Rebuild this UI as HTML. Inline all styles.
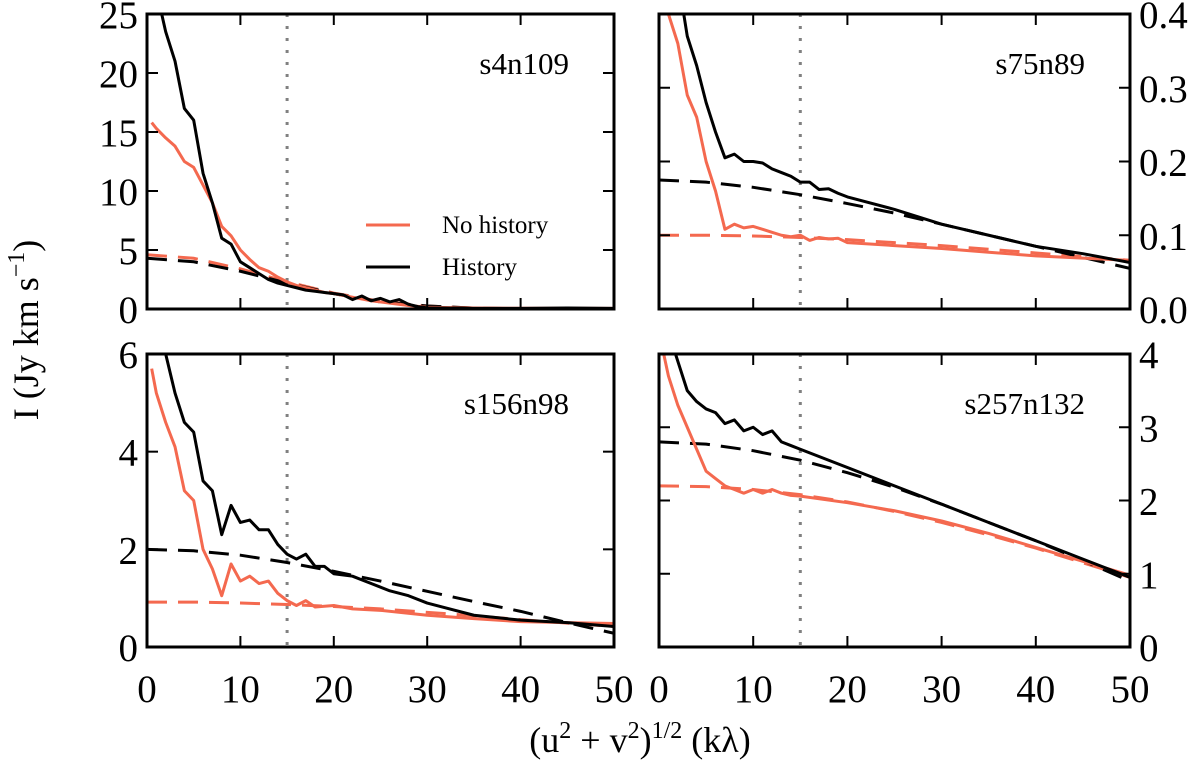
<!DOCTYPE html>
<html><head><meta charset="utf-8"><style>
body{margin:0;background:#fff;}
svg{display:block;font-family:"Liberation Serif",serif;}
</style></head><body>
<svg id="chart" width="1200" height="762" viewBox="0 0 1200 762" xmlns="http://www.w3.org/2000/svg">
<text x="38" y="330" font-size="36" text-anchor="middle" transform="rotate(-90 38 330)">I (Jy km s<tspan dy="-14" font-size="24">−1</tspan><tspan dy="14">)</tspan></text>
<text x="640" y="752" font-size="36" text-anchor="middle">(u<tspan dy="-14" font-size="24">2</tspan><tspan dy="14"> + v</tspan><tspan dy="-14" font-size="24">2</tspan><tspan dy="14">)</tspan><tspan dy="-14" font-size="24">1/2</tspan><tspan dy="14"> (kλ)</tspan></text>
</svg>
<script>
// ---- data ----
const panelNames = ["s4n109","s75n89","s156n98","s257n132"];
const yMaxes = [25, 0.4, 6, 4];
const yTicksTL = [0,5,10,15,20,25];
const yTicksTR = [0.0,0.1,0.2,0.3,0.4];
const yTicksBL = [0,2,4,6];
const yTicksBR = [0,1,2,3,4];
const xTicks = [0,10,20,30,40,50];

const xTL_hist = [1,2,3,4,5,6,7,8,9,10,11,12,13,14,15,16,17,18,19,20,21,22,23,24,25,26,27,28,29,30,35,40,45,50];
const yTL_hist = [27,23.5,21,17,16,11.5,9,6,5.5,4,3.5,3,2.5,2.2,2,1.8,1.6,1.5,1.4,1.3,1.2,0.8,1.1,0.7,0.9,0.6,0.8,0.4,0.2,0.1,0.05,0.05,0.08,0.05];
const xTL_nohist = [0.5,1,2,3,4,5,6,7,8,9,10,11,12,13,14,15,16,17,18,19,20,22,24,26,28,30,35,40,45,50];
const yTL_nohist = [15.8,15.3,14.5,13.8,12.5,12,10.5,9,7,6.2,5,4.2,3.5,3.2,2.7,2.3,2,1.8,1.6,1.4,1.3,1.0,0.7,0.5,0.3,0.15,0.08,0.06,0.05,0.05];
const yTL_fitHist = [4.3,4.0,3.2,2.2,1.3,0.6,0.25,0.08,0.02,0.0,0.0];
const yTL_fitNo = [4.6,4.3,3.4,2.3,1.35,0.65,0.25,0.08,0.02,0.0,0.0];

const xTR_hist = [2,3,4,5,6,7,8,9,10,11,12,13,14,15,16,17,18,19,20,25,30,35,40,45,50];
const yTR_hist = [0.45,0.37,0.33,0.28,0.24,0.205,0.21,0.2,0.2,0.198,0.19,0.185,0.18,0.172,0.172,0.162,0.163,0.157,0.152,0.135,0.115,0.1,0.085,0.075,0.063];
const xTR_nohist = [1,2,3,4,5,6,7,8,9,10,11,12,13,14,15,16,17,18,19,20,25,30,35,40,45,50];
const yTR_nohist = [0.4,0.36,0.29,0.26,0.2,0.16,0.108,0.115,0.11,0.112,0.108,0.104,0.1,0.098,0.1,0.093,0.097,0.095,0.096,0.09,0.086,0.082,0.077,0.072,0.069,0.066];
const yTR_fitHist = [0.175,0.172,0.165,0.155,0.143,0.13,0.115,0.1,0.085,0.07,0.055];
const yTR_fitNo = [0.1,0.1,0.099,0.097,0.094,0.09,0.086,0.081,0.076,0.071,0.066];

const xBL_hist = [1,2,3,4,5,6,7,8,9,10,11,12,13,14,15,16,17,18,19,20,22,24,26,28,30,32,35,40,45,50];
const yBL_hist = [6.5,6,5.2,4.6,4.4,3.4,3.2,2.3,2.9,2.55,2.6,2.4,2.4,2.1,1.9,1.8,1.9,1.65,1.65,1.5,1.45,1.3,1.15,1.05,0.9,0.8,0.65,0.55,0.5,0.42];
const xBL_nohist = [0.5,1,2,3,4,5,6,7,8,9,10,11,12,13,14,15,16,17,18,20,22,25,30,35,40,45,50];
const yBL_nohist = [5.7,5.2,4.6,4.1,3.2,3.0,2.0,1.6,1.05,1.7,1.35,1.45,1.3,1.35,1.1,0.95,0.85,0.95,0.82,0.85,0.78,0.75,0.65,0.58,0.52,0.5,0.48];
const yBL_fitHist = [2.0,1.97,1.88,1.73,1.55,1.35,1.14,0.93,0.73,0.5,0.28];
const yBL_fitNo = [0.92,0.92,0.9,0.87,0.83,0.78,0.71,0.64,0.56,0.49,0.42];

const xBR_hist = [1,2,3,4,5,6,7,8,9,10,11,12,13,14,15,20,25,30,35,40,45,50];
const yBR_hist = [4.3,3.9,3.5,3.35,3.25,3.2,3.05,3.1,2.95,3.0,2.9,2.95,2.8,2.75,2.7,2.45,2.2,1.95,1.7,1.45,1.2,0.95];
const xBR_nohist = [0.5,1,2,3,4,5,6,7,8,9,10,11,12,13,14,15,20,25,30,35,40,45,50];
const yBR_nohist = [4.0,3.7,3.3,3.0,2.7,2.4,2.3,2.2,2.15,2.1,2.15,2.1,2.15,2.1,2.07,2.06,1.97,1.86,1.72,1.55,1.36,1.17,0.98];
const yBR_fitHist = [2.8,2.77,2.68,2.55,2.38,2.18,1.95,1.7,1.45,1.18,0.9];
const yBR_fitNo = [2.2,2.19,2.15,2.08,1.98,1.85,1.7,1.53,1.35,1.15,0.95];
const xFit = [0,5,10,15,20,25,30,35,40,45,50];

const cutoff = 15;

// ---- drawing ----
const NS="http://www.w3.org/2000/svg";
const svg=document.getElementById('chart');
const RED="#f4694f";
function mk(tag,attrs,parent){const e=document.createElementNS(NS,tag);for(const k in attrs)e.setAttribute(k,attrs[k]);(parent||svg).appendChild(e);return e;}

const panels=[
 {x0:147,x1:614,y0:14,y1:309,ym:yMaxes[0],ticks:yTicksTL,side:"left",fmt:v=>String(v),xl:false,
  s:[[xTL_nohist,yTL_nohist],[xTL_hist,yTL_hist]],f:[yTL_fitNo,yTL_fitHist]},
 {x0:659,x1:1130,y0:14,y1:309,ym:yMaxes[1],ticks:yTicksTR,side:"right",fmt:v=>v.toFixed(1),xl:false,
  s:[[xTR_nohist,yTR_nohist],[xTR_hist,yTR_hist]],f:[yTR_fitNo,yTR_fitHist]},
 {x0:147,x1:614,y0:354,y1:647,ym:yMaxes[2],ticks:yTicksBL,side:"left",fmt:v=>String(v),xl:true,
  s:[[xBL_nohist,yBL_nohist],[xBL_hist,yBL_hist]],f:[yBL_fitNo,yBL_fitHist]},
 {x0:659,x1:1130,y0:354,y1:647,ym:yMaxes[3],ticks:yTicksBR,side:"right",fmt:v=>String(v),xl:true,
  s:[[xBR_nohist,yBR_nohist],[xBR_hist,yBR_hist]],f:[yBR_fitNo,yBR_fitHist]}
];

panels.forEach((p,i)=>{
  const g=mk('g',{});
  
  
  const id='clip'+i;
  const cp=mk('clipPath',{id:id},g);
  mk('rect',{x:p.x0,y:p.y0,width:p.x1-p.x0,height:p.y1-p.y0},cp);
  const X=v=>p.x0+v/50*(p.x1-p.x0);
  const Y=v=>p.y1-v/p.ym*(p.y1-p.y0);
  const plot=mk('g',{'clip-path':'url(#'+id+')'},g);
  const cl=mk('line',{x1:X(cutoff),x2:X(cutoff),y1:p.y0,y2:p.y1,stroke:'#808080','stroke-width':3,'stroke-dasharray':'3,9'},plot);
  
  
  [[p.f[0],RED,'fit-no-history'],[p.f[1],'#000','fit-history']].forEach(([ys,c,n])=>{
    const e=mk('polyline',{points:xFit.map((x,k)=>X(x)+','+Y(ys[k])).join(' '),fill:'none',stroke:c,'stroke-width':3,'stroke-dasharray':'20,11'},plot);
    
    
  });
  [[p.s[0],RED,'no-history-line'],[p.s[1],'#000','history-line']].forEach(([s,c,n])=>{
    const e=mk('polyline',{points:s[0].map((x,k)=>X(x)+','+Y(s[1][k])).join(' '),fill:'none',stroke:c,'stroke-width':3,'stroke-linejoin':'round'},plot);
    
    
  });
  const fr=mk('rect',{x:p.x0,y:p.y0,width:p.x1-p.x0,height:p.y1-p.y0,fill:'none',stroke:'#000','stroke-width':3},g);
  
  
  xTicks.forEach(v=>{
    mk('line',{x1:X(v),x2:X(v),y1:p.y1,y2:p.y1-11,stroke:'#000','stroke-width':2},g);
    mk('line',{x1:X(v),x2:X(v),y1:p.y0,y2:p.y0+11,stroke:'#000','stroke-width':2},g);
    if(p.xl){
      const t=mk('text',{x:X(v),y:p.y1+55,'font-size':39,'text-anchor':'middle'},g);
      t.textContent=String(v);
      
      
    }
  });
  p.ticks.forEach(v=>{
    mk('line',{x1:p.x0,x2:p.x0+11,y1:Y(v),y2:Y(v),stroke:'#000','stroke-width':2},g);
    mk('line',{x1:p.x1,x2:p.x1-11,y1:Y(v),y2:Y(v),stroke:'#000','stroke-width':2},g);
    const left=p.side==='left';
    const t=mk('text',{x:left?p.x0-9:p.x1+9,y:Y(v)+14,'font-size':39,'text-anchor':left?'end':'start'},g);
    t.textContent=p.fmt(v);
    
    
  });
  const ti=mk('text',{x:p.x1-45,y:p.y0+60,'font-size':31,'text-anchor':'end'},g);
  ti.textContent=panelNames[i];
  
  
});

const lg=mk('g',{});


[[RED,'No history',225],['#000','History',267]].forEach(([c,l,y])=>{
  const e=mk('g',{},lg);
  
  
  mk('line',{x1:366,x2:410,y1:y,y2:y,stroke:c,'stroke-width':3},e);
  const t=mk('text',{x:442,y:y+8,'font-size':25},e);
  t.textContent=l;
});
</script>
</body></html>
